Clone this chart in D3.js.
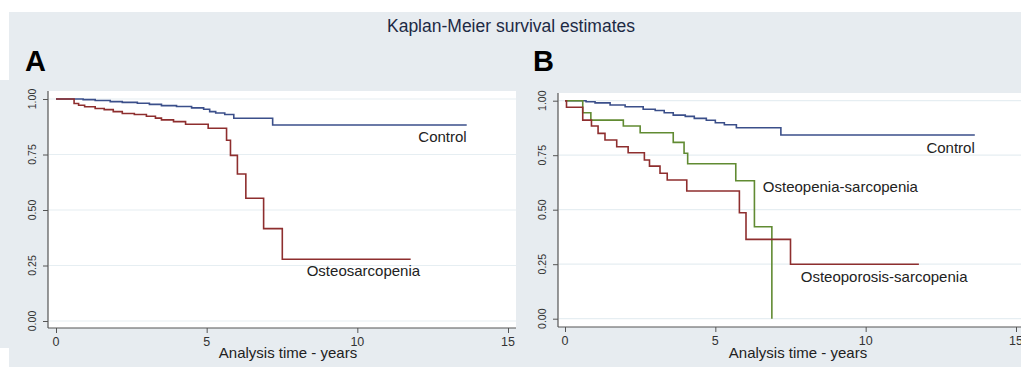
<!DOCTYPE html>
<html>
<head>
<meta charset="utf-8">
<script src="https://cdn.jsdelivr.net/npm/d3@7"></script>
<style>
  html, body { margin: 0; padding: 0; background: #ffffff; }
  svg { display: block; }
  text { font-family: "Liberation Sans", Arial, sans-serif; }
</style>
</head>
<body>
<svg id="chart" width="1021" height="367"></svg>
<script>
// ---------- data ----------
const chartTitle = "Kaplan-Meier survival estimates";
const xAxisTitle = "Analysis time - years";
const xTicks = [0, 5, 10, 15];
const yTicks = [0, 0.25, 0.5, 0.75, 1.0];

// Panel A
const controlA_t = [0, 0.9, 1.3, 1.8, 2.2, 2.7, 3.1, 3.5, 4.0, 4.5, 4.9, 5.1, 5.3, 5.6, 5.9, 7.19, 13.63];
const controlA_s = [1.0, 0.997, 0.993, 0.988, 0.985, 0.981, 0.976, 0.970, 0.966, 0.960, 0.954, 0.943, 0.937, 0.930, 0.913, 0.883, 0.883];
const osteoA_t = [0, 0.6, 0.75, 0.95, 1.3, 1.6, 1.9, 2.2, 2.6, 3.0, 3.3, 3.5, 3.9, 4.3, 5.05, 5.66, 5.79, 6.02, 6.3, 6.89, 7.51, 11.77];
const osteoA_s = [1.0, 0.98, 0.972, 0.965, 0.957, 0.952, 0.943, 0.935, 0.93, 0.922, 0.914, 0.906, 0.898, 0.886, 0.868, 0.814, 0.746, 0.662, 0.553, 0.416, 0.278, 0.278];

// Panel B
const controlB_t = [0, 0.7, 1.0, 1.5, 2.0, 2.6, 3.0, 3.3, 3.6, 4.0, 4.3, 4.7, 5.0, 5.3, 5.7, 7.18, 13.63];
const controlB_s = [1.0, 0.995, 0.99, 0.98, 0.972, 0.961, 0.955, 0.945, 0.934, 0.928, 0.919, 0.91, 0.899, 0.89, 0.876, 0.843, 0.843];
const penicB_t = [0, 0.59, 0.86, 1.94, 2.5, 3.6, 3.96, 4.08, 5.68, 6.3, 6.88];
const penicB_s = [1.0, 0.945, 0.911, 0.884, 0.853, 0.809, 0.759, 0.711, 0.633, 0.422, 0.0];
const poroticB_t = [0, 0.05, 0.59, 0.88, 1.1, 1.33, 1.72, 2.1, 2.64, 2.81, 3.16, 3.4, 4.05, 5.8, 6.02, 7.5, 11.77];
const poroticB_s = [1.0, 0.97, 0.911, 0.884, 0.85, 0.82, 0.789, 0.761, 0.728, 0.7, 0.667, 0.636, 0.586, 0.486, 0.364, 0.25, 0.25];

// ---------- styling / layout ----------
const COL_BLUE = "#3b4f8a";
const COL_RED = "#8e2e2e";
const COL_GREEN = "#618b32";
const BG = "#e7ecf0";
const GRID = "#e6eef2";

const svg = d3.select("#chart");

svg.append("rect").attr("x", 9).attr("y", 12).attr("width", 1012).attr("height", 355).attr("fill", BG);
svg.append("rect").attr("x", 0).attr("y", 80).attr("width", 12).attr("height", 268).attr("fill", BG);

svg.append("text")
  .attr("x", 511).attr("y", 32)
  .attr("text-anchor", "middle")
  .attr("font-size", 17.5)
  .attr("fill", "#1d2a44")
  .text(chartTitle);

function zip(ts, ss) { return ts.map((t, i) => ({ t: t, s: ss[i] })); }

function panel(cfg) {
  const g = svg.append("g");
  const x = d3.scaleLinear().domain([0, 15]).range(cfg.xr);
  const y = d3.scaleLinear().domain([0, 1]).range(cfg.yr);

  // plot area
  g.append("rect")
    .attr("x", cfg.box[0]).attr("y", cfg.box[1])
    .attr("width", cfg.box[2] - cfg.box[0]).attr("height", cfg.box[3] - cfg.box[1])
    .attr("fill", "#ffffff");

  // gridlines
  g.selectAll("line.grid").data(yTicks).enter().append("line")
    .attr("x1", cfg.box[0] + 1).attr("x2", cfg.box[2])
    .attr("y1", d => y(d)).attr("y2", d => y(d))
    .attr("stroke", GRID).attr("stroke-width", 1.2);

  // y axis
  const yAxis = d3.axisLeft(y).tickValues(yTicks).tickSize(5).tickFormat("");
  const ya = g.append("g").attr("transform", `translate(${cfg.box[0]},0)`).call(yAxis);
  ya.select(".domain").remove();
  ya.selectAll(".tick line").attr("stroke", "#555");
  g.append("line").attr("x1", cfg.box[0]).attr("x2", cfg.box[0])
    .attr("y1", cfg.box[1]).attr("y2", cfg.box[3]).attr("stroke", "#555").attr("stroke-width", 1.2);
  g.selectAll("text.ytick").data(yTicks).enter().append("text")
    .attr("transform", d => `translate(${cfg.box[0] - 12.5},${y(d)}) rotate(-90)`)
    .attr("text-anchor", "middle")
    .attr("font-size", 10.5)
    .attr("fill", "#333")
    .text(d => d3.format(".2f")(d));

  // x axis
  const xAxis = d3.axisBottom(x).tickValues(xTicks).tickSize(5).tickFormat("");
  const xa = g.append("g").attr("transform", `translate(0,${cfg.box[3]})`).call(xAxis);
  xa.select(".domain").remove();
  xa.selectAll(".tick line").attr("stroke", "#555");
  g.append("line").attr("x1", cfg.box[0]).attr("x2", cfg.box[2])
    .attr("y1", cfg.box[3]).attr("y2", cfg.box[3]).attr("stroke", "#555").attr("stroke-width", 1.2);
  g.selectAll("text.xtick").data(xTicks).enter().append("text")
    .attr("x", d => x(d)).attr("y", cfg.box[3] + 18)
    .attr("text-anchor", "middle")
    .attr("font-size", 12.5)
    .attr("fill", "#333")
    .text(d => d);

  g.append("text")
    .attr("x", cfg.titleX).attr("y", 358)
    .attr("text-anchor", "middle")
    .attr("font-size", 15)
    .attr("fill", "#222")
    .text(xAxisTitle);

  // panel letter
  g.append("text")
    .attr("x", cfg.letterX).attr("y", 71)
    .attr("font-size", 29).attr("font-weight", "bold")
    .attr("fill", "#000")
    .text(cfg.letter);

  // curves
  const line = d3.line().x(d => x(d.t)).y(d => y(d.s)).curve(d3.curveStepAfter);
  cfg.series.forEach(s => {
    g.append("path")
      .datum(zip(s.t, s.s))
      .attr("d", line)
      .attr("fill", "none")
      .attr("stroke", s.color)
      .attr("stroke-width", 1.6);
  });
  cfg.labels.forEach(l => {
    g.append("text")
      .attr("x", x(l.t)).attr("y", y(l.s))
      .attr("text-anchor", l.anchor)
      .attr("font-size", 15)
      .attr("fill", "#222")
      .text(l.text);
  });
}

panel({
  letter: "A", letterX: 25,
  xr: [56, 508], yr: [321, 99],
  box: [48, 91, 516, 328],
  titleX: 288,
  series: [
    { t: controlA_t, s: controlA_s, color: COL_BLUE },
    { t: osteoA_t, s: osteoA_s, color: COL_RED }
  ],
  labels: [
    { text: "Control", t: 13.63, s: 0.808, anchor: "end" },
    { text: "Osteosarcopenia", t: 8.32, s: 0.203, anchor: "start" }
  ]
});

panel({
  letter: "B", letterX: 533,
  xr: [565, 1016], yr: [318.7, 100.7],
  box: [558, 93, 1021, 327],
  titleX: 798,
  series: [
    { t: controlB_t, s: controlB_s, color: COL_BLUE },
    { t: penicB_t, s: penicB_s, color: COL_GREEN },
    { t: poroticB_t, s: poroticB_s, color: COL_RED }
  ],
  labels: [
    { text: "Control", t: 13.63, s: 0.761, anchor: "end" },
    { text: "Osteopenia-sarcopenia", t: 6.58, s: 0.583, anchor: "start" },
    { text: "Osteoporosis-sarcopenia", t: 7.84, s: 0.17, anchor: "start" }
  ]
});
</script>
</body>
</html>
